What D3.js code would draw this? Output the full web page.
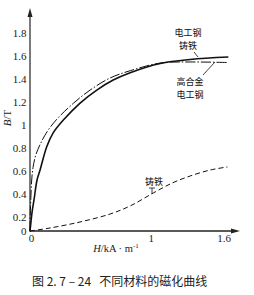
<!DOCTYPE html>
<html>
<head>
<meta charset="utf-8">
<script src="https://cdn.jsdelivr.net/npm/d3@7"></script>
<style>
    body { margin: 0; background: #fff; }
    svg { display: block; }
</style>
</head>
<body>
<div id="chart"></div>
<script>
// y tick labels and x tick labels
var yTicks = [0, 0.2, 0.4, 0.6, 0.8, 1, 1.2, 1.4, 1.6, 1.8];
var xTicks = [0, 1, 1.6];

// electrical steel / cast steel (solid)
var steelH = [0, 0.008, 0.017, 0.033, 0.058, 0.083, 0.138, 0.19, 0.275, 0.413, 0.551, 0.686, 0.826, 1.074, 1.322, 1.636];
var steelB = [0, 0.129, 0.243, 0.348, 0.522, 0.609, 0.811, 0.93, 1.043, 1.191, 1.304, 1.391, 1.455, 1.535, 1.57, 1.591];

// high alloy electrical steel (dash-dot)
var alloyH = [0, 0.002, 0.008, 0.014, 0.025, 0.045, 0.083, 0.14, 0.221, 0.358, 0.496, 0.661, 0.826, 1.074, 1.322, 1.636];
var alloyB = [0, 0.217, 0.391, 0.522, 0.63, 0.73, 0.83, 0.94, 1.05, 1.189, 1.304, 1.409, 1.472, 1.539, 1.548, 1.543];

// cast iron (dashed)
var ironH = [0, 0.165, 0.413, 0.661, 0.826, 1.017, 1.174, 1.322, 1.488, 1.628];
var ironB = [0, 0.043, 0.129, 0.226, 0.296, 0.409, 0.496, 0.557, 0.609, 0.635];

var width = 254, height = 295;
var x0 = 30, y0 = 231;
var serif = '"Liberation Serif", "DejaVu Serif", serif';
var cjk = '"Noto Sans CJK SC", sans-serif';

var svg = d3.select('#chart').append('svg')
    .attr('width', width)
    .attr('height', height);

var x = d3.scaleLinear().domain([0, 1.6]).range([x0, 224]);
// printed scale is slightly uneven near the origin
var y = d3.scaleLinear().domain([0, 0.2, 1.8]).range([y0, 217, 33]);

function zip(hs, bs) {
    return hs.map(function (h, i) { return [h, bs[i]]; });
}

var line = d3.line()
    .x(function (d) { return x(d[0]); })
    .y(function (d) { return y(d[1]); })
    .curve(d3.curveCatmullRom.alpha(0.5));

/////////////////////////////
// Axes
/////////////////////////////
svg.append('line')
    .attr('x1', x0).attr('y1', y0 + 1)
    .attr('x2', x0).attr('y2', 14)
    .attr('stroke', '#222').attr('stroke-width', 1.2);
svg.append('path')
    .attr('d', 'M' + x0 + ',8 L' + (x0 - 2.5) + ',17 L' + (x0 + 2.5) + ',17 Z')
    .attr('fill', '#222');

svg.append('line')
    .attr('x1', x0).attr('y1', y0)
    .attr('x2', 234).attr('y2', y0)
    .attr('stroke', '#222').attr('stroke-width', 1.5);
svg.append('path')
    .attr('d', 'M240,' + y0 + ' L231,' + (y0 - 2.5) + ' L231,' + (y0 + 2.5) + ' Z')
    .attr('fill', '#222');

svg.selectAll('.ytick')
    .data(yTicks)
    .enter().append('text')
    .attr('class', 'ytick')
    .attr('x', 26.5)
    .attr('y', function (d) { return y(d) + 3.5; })
    .attr('text-anchor', 'end')
    .style('font-family', serif)
    .style('font-size', '11px')
    .attr('fill', '#222')
    .text(function (d) { return d; });

svg.selectAll('.xtick')
    .data(xTicks)
    .enter().append('text')
    .attr('class', 'xtick')
    .attr('x', function (d) { return d === 0 ? x(d) + 1.5 : x(d); })
    .attr('y', 242)
    .attr('text-anchor', 'middle')
    .style('font-family', serif)
    .style('font-size', '11px')
    .attr('fill', '#222')
    .text(function (d) { return d; });

// axis titles
var yt = svg.append('text')
    .attr('transform', 'translate(11,118) rotate(-90)')
    .attr('text-anchor', 'middle')
    .style('font-family', serif)
    .style('font-size', '11px')
    .attr('fill', '#222');
yt.append('tspan').style('font-style', 'italic').text('B');
yt.append('tspan').text('/T');

var xt = svg.append('text')
    .attr('x', 116).attr('y', 252)
    .attr('text-anchor', 'middle')
    .style('font-family', serif)
    .style('font-size', '10.5px')
    .attr('fill', '#222');
xt.append('tspan').style('font-style', 'italic').text('H');
xt.append('tspan').text('/kA · m');
xt.append('tspan').attr('dy', -4).style('font-size', '7px').text('-1');

/////////////////////////////
// Curves
/////////////////////////////
svg.append('path')
    .datum(zip(steelH, steelB))
    .attr('d', line)
    .attr('fill', 'none')
    .attr('stroke', '#111')
    .attr('stroke-width', 1.6);

svg.append('path')
    .datum(zip(alloyH, alloyB))
    .attr('d', line)
    .attr('fill', 'none')
    .attr('stroke', '#111')
    .attr('stroke-width', 1)
    .attr('stroke-dasharray', '10,2,1.5,2');

svg.append('path')
    .datum(zip(ironH, ironB))
    .attr('d', line)
    .attr('fill', 'none')
    .attr('stroke', '#111')
    .attr('stroke-width', 1)
    .attr('stroke-dasharray', '5,3');

/////////////////////////////
// Curve labels (one text, lines as tspans)
/////////////////////////////
function label(lines, cx, cy) {
    svg.append('text')
        .attr('text-anchor', 'middle')
        .style('font-family', cjk)
        .style('font-size', '9px')
        .attr('fill', '#111')
        .selectAll('tspan')
        .data(lines)
        .enter().append('tspan')
        .attr('x', cx)
        .attr('y', function (d, i) { return cy + i * 13.2; })
        .text(function (d) { return d; });
}

label(['电工钢', '铸铁'], 188, 35.5);
label(['高合金', '电工钢'], 190, 84.5);
label(['铸铁'], 154, 185);

// leader lines
svg.append('line')
    .attr('x1', 194).attr('y1', 52).attr('x2', 198).attr('y2', 57)
    .attr('stroke', '#111').attr('stroke-width', 0.8);
svg.append('line')
    .attr('x1', 203).attr('y1', 75).attr('x2', 215).attr('y2', 62)
    .attr('stroke', '#111').attr('stroke-width', 0.8);
svg.append('line')
    .attr('x1', 152).attr('y1', 188).attr('x2', 152).attr('y2', 194)
    .attr('stroke', '#111').attr('stroke-width', 0.8);
svg.append('line')
    .attr('x1', 149).attr('y1', 188).attr('x2', 155).attr('y2', 188)
    .attr('stroke', '#111').attr('stroke-width', 0.8);

/////////////////////////////
// Caption
/////////////////////////////
svg.append('text')
    .attr('x', 32).attr('y', 286)
    .style('font-family', cjk)
    .style('font-size', '12px')
    .attr('fill', '#222')
    .style('white-space', 'pre')
    .text('图 2. 7 – 24   不同材料的磁化曲线');
</script>
</body>
</html>
